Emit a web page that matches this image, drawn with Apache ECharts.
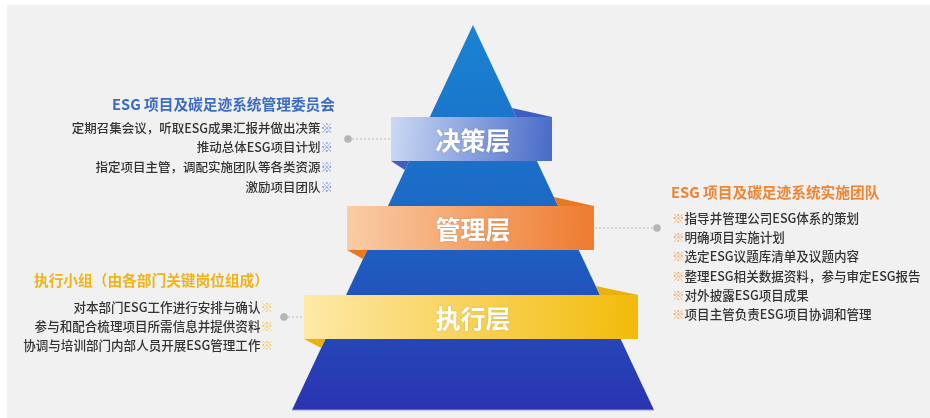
<!DOCTYPE html>
<html><head><meta charset="utf-8">
<script src="https://cdn.jsdelivr.net/npm/echarts@6/dist/echarts.min.js"></script>
<style>html,body{margin:0;padding:0;background:#fff}#c{width:930px;height:418px}</style>
</head><body><div id="c"></div>
<script>
// ---- content ----
const levels = ['决策层', '管理层', '执行层'];
const groupTitles = ['ESG 项目及碳足迹系统管理委员会', 'ESG 项目及碳足迹系统实施团队', '执行小组（由各部门关键岗位组成）'];
const decisionItems = ['定期召集会议，听取ESG成果汇报并做出决策', '推动总体ESG项目计划', '指定项目主管，调配实施团队等各类资源', '激励项目团队'];
const managementItems = ['指导并管理公司ESG体系的策划', '明确项目实施计划', '选定ESG议题库清单及议题内容', '整理ESG相关数据资料，参与审定ESG报告', '对外披露ESG项目成果', '项目主管负责ESG项目协调和管理'];
const executionItems = ['对本部门ESG工作进行安排与确认', '参与和配合梳理项目所需信息并提供资料', '协调与培训部门内部人员开展ESG管理工作'];
const groupItems = [decisionItems, managementItems, executionItems];

// ---- layout / style ----
const FONT = '"Noto Sans CJK SC","Noto Sans",sans-serif';
const pyr = { apexX: 473, apexY: 25, baseY: 410, half: 181 };
const bandLayout = [
  { top: 117, h: 44, left: 391, right: 552, c0: '#cbd9f4', c1: '#4a6cc8', fold: '#3b5ec0',
    side: 'left', dotX: 348, textX: 335, markX: 333, titleY: 104, lineY0: 128, step: 19.6, fs: 12.5,
    title: '#3b6bc5', mark: '#7396e2' },
  { top: 206, h: 44, left: 347, right: 594, c0: '#f9cda6', c1: '#ee7b30', fold: '#ea761f',
    side: 'right', dotX: 657, textX: 671, markX: 672, titleY: 192, lineY0: 218, step: 19.3, fs: 12.55,
    title: '#ef8433', mark: '#f5a463' },
  { top: 295, h: 44, left: 304, right: 638, c0: '#fee9a8', c1: '#f2bb0a', fold: '#eab00c',
    side: 'left', dotX: 284, textX: 269, markX: 273, titleY: 280, lineY0: 307, step: 19.2, fs: 12.55,
    title: '#f0b41a', mark: '#f6c945' }
];
const bodyColor = '#333333';

function edgeX(y, dir) {
  return pyr.apexX + dir * (y - pyr.apexY) / (pyr.baseY - pyr.apexY) * pyr.half;
}

function renderPyramid(params, api) {
  const a = api.coord([pyr.apexX, pyr.apexY]);
  const l = api.coord([pyr.apexX - pyr.half, pyr.baseY]);
  const r = api.coord([pyr.apexX + pyr.half, pyr.baseY]);
  return {
    type: 'group',
    children: [
      { type: 'polygon', shape: { points: [a, r, l] },
        style: { fill: new echarts.graphic.LinearGradient(0, 0, 0, 1, [
          { offset: 0, color: '#1a83d2' }, { offset: 0.5, color: '#1c68c4' }, { offset: 1, color: '#2b33b0' }]) } },
      { type: 'line', shape: { x1: l[0], y1: l[1], x2: r[0], y2: r[1] }, style: { stroke: '#8e9be0', lineWidth: 1.2 } }
    ]
  };
}

function renderBand(params, api) {
  const i = params.dataIndex;
  const L = bandLayout[i];
  const P = (x, y) => api.coord([x, y]);
  const bot = L.top + L.h;
  const midY = L.top + L.h / 2;
  const children = [];
  // ribbon folds wrapping behind the pyramid
  children.push({ type: 'polygon', shape: { points: [P(L.right, L.top), P(edgeX(L.top, 1), L.top), P(edgeX(L.top - 9, 1), L.top - 9)] },
    style: { fill: L.fold } });
  children.push({ type: 'polygon', shape: { points: [P(L.left, bot), P(edgeX(bot, -1), bot), P(edgeX(bot + 9, -1), bot + 9)] },
    style: { fill: L.fold } });
  const p0 = P(L.left, L.top), p1 = P(L.right, bot);
  children.push({ type: 'rect', shape: { x: p0[0], y: p0[1], width: p1[0] - p0[0], height: p1[1] - p0[1] },
    style: { fill: new echarts.graphic.LinearGradient(0, 0, 1, 0.4, [{ offset: 0, color: L.c0 }, { offset: 1, color: L.c1 }]) } });
  const c = P(pyr.apexX, midY);
  children.push({ type: 'text', style: { x: c[0], y: c[1] + 1, text: levels[i], fill: '#ffffff', fontSize: 25, fontWeight: 'bold',
    fontFamily: FONT, align: 'center', verticalAlign: 'middle', textShadowColor: 'rgba(0,0,0,0.15)', textShadowBlur: 2 } });
  // connector
  const bandEdge = L.side === 'left' ? L.left : L.right;
  const d = P(L.dotX, midY), e = P(bandEdge, midY);
  children.push({ type: 'line', shape: { x1: d[0], y1: d[1], x2: e[0], y2: e[1] }, style: { stroke: '#bcbcbc', lineWidth: 1, lineDash: [2, 2] } });
  children.push({ type: 'circle', shape: { cx: d[0], cy: d[1], r: 3.8 }, style: { fill: '#b5b5b5' } });
  // title
  const align = L.side === 'left' ? 'right' : 'left';
  const t = P(L.textX, L.titleY);
  children.push({ type: 'text', style: { x: t[0], y: t[1], text: groupTitles[i], fill: L.title, fontSize: 14.7, fontWeight: 'bold',
    fontFamily: FONT, align: align, verticalAlign: 'middle' } });
  // items
  groupItems[i].forEach((s, k) => {
    const q = P(L.markX, L.lineY0 + k * L.step);
    const txt = L.side === 'left' ? '{t|' + s + '}{m|※}' : '{m|※}{t|' + s + '}';
    children.push({ type: 'text', style: { x: q[0], y: q[1], text: txt, align: align, verticalAlign: 'middle',
      rich: { t: { fill: bodyColor, fontSize: L.fs, fontFamily: FONT, fontWeight: 500 },
              m: { fill: L.mark, fontSize: L.fs, fontFamily: FONT, fontWeight: 500 } } } });
  });
  return { type: 'group', children: children };
}

const chart = echarts.init(document.getElementById('c'), null, { renderer: 'canvas' });
chart.setOption({
  backgroundColor: '#ffffff',
  animation: false,
  graphic: [{ type: 'rect', shape: { x: 7, y: 5, width: 923, height: 413 }, style: { fill: '#f1f1f1' }, z: -10 }],
  grid: { left: 0, right: 0, top: 0, bottom: 0 },
  xAxis: { type: 'value', min: 0, max: 930, show: false },
  yAxis: { type: 'value', min: 0, max: 418, inverse: true, show: false },
  series: [
    { type: 'custom', coordinateSystem: 'cartesian2d', renderItem: renderPyramid, data: [[pyr.apexX, pyr.apexY]], z: 2, silent: true },
    { type: 'custom', coordinateSystem: 'cartesian2d', renderItem: renderBand,
      data: levels.map((n, i) => [bandLayout[i].left, bandLayout[i].top]), z: 3, silent: true }
  ]
});
</script></body></html>
